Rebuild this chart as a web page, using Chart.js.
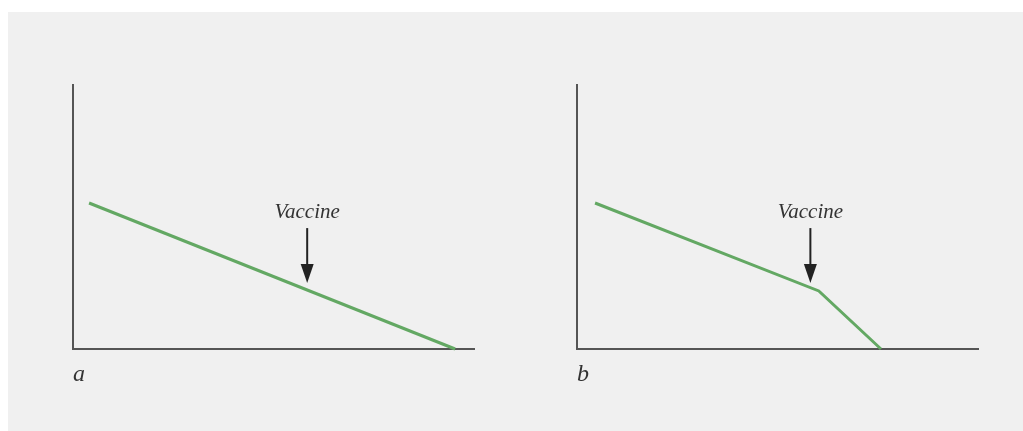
<!DOCTYPE html>
<html>
<head>
<meta charset="utf-8">
<script src="https://cdn.jsdelivr.net/npm/chart.js@4"></script>
<style>
  html, body { margin: 0; padding: 0; background: #ffffff; }
  #panel { position: absolute; left: 8px; top: 12px; width: 1015px; height: 419px; background: #f0f0f0; }
  .box { position: absolute; top: 0; width: 504px; height: 431px; }
</style>
</head>
<body>
<div id="panel"></div>
<div class="box" style="left:0"><canvas id="chartA"></canvas></div>
<div class="box" style="left:504px"><canvas id="chartB"></canvas></div>
<script>
// Panel a: steady decline
const xA = [4, 95.3];
const yA = [55.3, 0];

// Panel b: decline speeds up after the vaccine
const xB = [4.5, 60.3, 75.8];
const yB = [55.3, 22, 0];

// Where the vaccine arrow points (x) and its top / tip (y)
const vaccineX = [58.4, 58.2];
const arrowTop = 45.8;
const arrowTip = 25;

const panelLabels = ['a', 'b'];
const arrowText = 'Vaccine';

const green = '#63a863';
const axisColor = '#555555';

// Draws the arrow, its caption and the panel letter
const annotate = {
    id: 'annotate',
    afterDatasetsDraw(chart, args, opts) {
        const ctx = chart.ctx;
        const x = chart.scales.x.getPixelForValue(opts.arrowX);
        const top = chart.scales.y.getPixelForValue(arrowTop);
        const tip = chart.scales.y.getPixelForValue(arrowTip);
        ctx.save();
        ctx.strokeStyle = '#222222';
        ctx.fillStyle = '#222222';
        ctx.lineWidth = 2;
        ctx.beginPath();
        ctx.moveTo(x, top);
        ctx.lineTo(x, tip - 16);
        ctx.stroke();
        ctx.beginPath();
        ctx.moveTo(x - 6.5, tip - 19);
        ctx.lineTo(x + 6.5, tip - 19);
        ctx.lineTo(x, tip);
        ctx.closePath();
        ctx.fill();

        ctx.fillStyle = '#333333';
        ctx.font = 'italic 21px "Liberation Serif"';
        ctx.textAlign = 'center';
        ctx.textBaseline = 'alphabetic';
        ctx.fillText(arrowText, x, top - 10);

        ctx.font = 'italic 24px "Liberation Serif"';
        ctx.textAlign = 'left';
        ctx.fillText(opts.label, chart.chartArea.left, chart.chartArea.bottom + 32);
        ctx.restore();
    }
};

function makeChart(id, xs, ys, arrowX, label) {
    const points = xs.map((x, i) => ({ x: x, y: ys[i] }));
    return new Chart(document.getElementById(id).getContext('2d'), {
        type: 'line',
        data: {
            datasets: [{
                data: points,
                borderColor: green,
                borderWidth: 3,
                pointRadius: 0,
                tension: 0,
                clip: false
            }]
        },
        options: {
            responsive: true,
            maintainAspectRatio: false,
            animation: false,
            layout: { padding: { left: 73, right: 30, top: 85, bottom: 82 } },
            plugins: {
                legend: { display: false },
                tooltip: { enabled: false },
                annotate: { arrowX: arrowX, label: label }
            },
            scales: {
                x: {
                    type: 'linear', min: 0, max: 100,
                    grid: { display: false, drawTicks: false },
                    border: { color: axisColor, width: 2 },
                    ticks: { display: false },
                    afterFit: s => { s.height = 0; }
                },
                y: {
                    min: 0, max: 100,
                    grid: { display: false, drawTicks: false },
                    border: { color: axisColor, width: 2 },
                    ticks: { display: false },
                    afterFit: s => { s.width = 0; }
                }
            }
        },
        plugins: [annotate]
    });
}

makeChart('chartA', xA, yA, vaccineX[0], panelLabels[0]);
makeChart('chartB', xB, yB, vaccineX[1], panelLabels[1]);
</script>
</body>
</html>
